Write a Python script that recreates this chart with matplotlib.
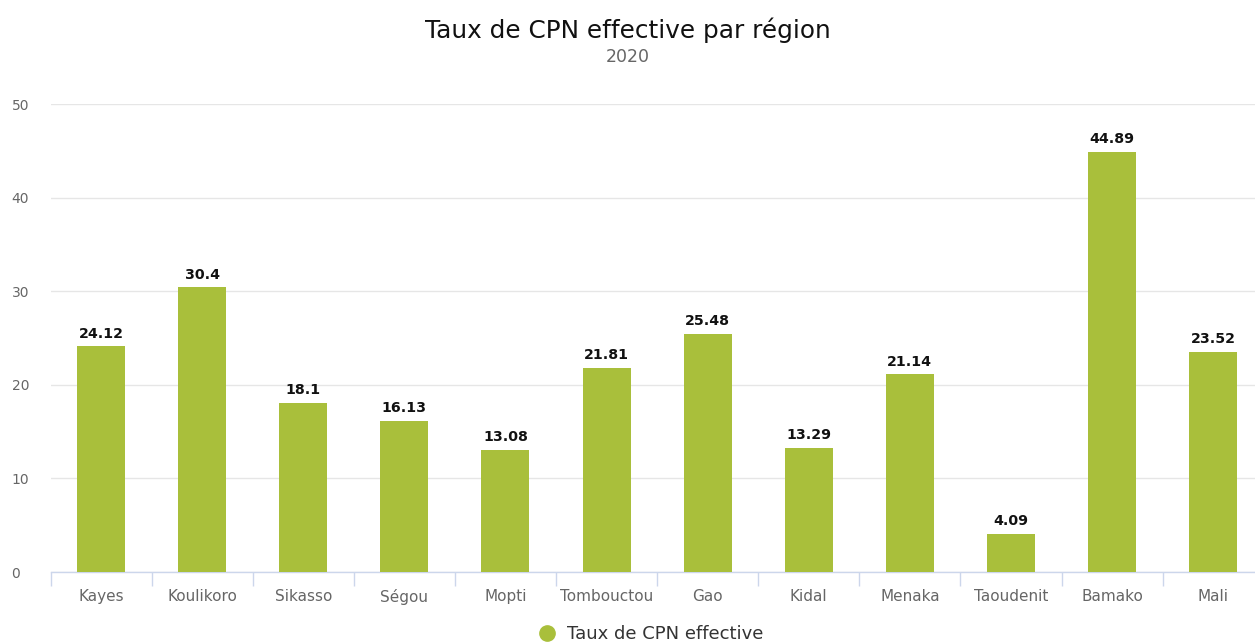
import matplotlib
matplotlib.use('Agg')
import matplotlib.pyplot as plt
from matplotlib.lines import Line2D

regions = ['Kayes', 'Koulikoro', 'Sikasso', 'Ségou', 'Mopti', 'Tombouctou',
           'Gao', 'Kidal', 'Menaka', 'Taoudenit', 'Bamako', 'Mali']
values = [24.12, 30.4, 18.1, 16.13, 13.08, 21.81, 25.48, 13.29, 21.14, 4.09, 44.89, 23.52]
labels = ['24.12', '30.4', '18.1', '16.13', '13.08', '21.81', '25.48', '13.29',
          '21.14', '4.09', '44.89', '23.52']
yticks = [0, 10, 20, 30, 40, 50]

bar_color = '#a9bf3b'
plt.rcParams['font.family'] = ['DejaVu Sans']

fig = plt.figure(figsize=(12.55, 6.44), dpi=100)
# plot area: x 50.5..1263.7 px, y 104..572 px
ax = fig.add_axes([50.5 / 1255, (644 - 572) / 644, 1213.2 / 1255, (572 - 104) / 644])

x = list(range(len(regions)))
ax.bar(x, values, width=0.475, color=bar_color, zorder=3)
for xi, v, lab in zip(x, values, labels):
    ax.annotate(lab, (xi, v), xytext=(0, 4), textcoords='offset points',
                ha='center', va='bottom', fontsize=10.2, fontweight='bold', color='#111111')

ax.set_xlim(-0.5, len(regions) - 0.5)
ax.set_ylim(0, 50)
ax.set_yticks(yticks)
ax.set_yticklabels([str(t) for t in yticks])
ax.grid(axis='y', color='#e6e6e6', linewidth=1, zorder=0)
ax.set_axisbelow(True)

ax.set_xticks(x)
ax.set_xticklabels(regions)
ax.set_xticks([i - 0.5 for i in range(len(regions) + 1)], minor=True)
ax.tick_params(axis='x', which='major', length=0, pad=12, labelsize=11, labelcolor='#666666')
ax.tick_params(axis='x', which='minor', length=10, color='#ccd6eb', width=1)
ax.tick_params(axis='y', length=0, pad=28, labelsize=10, labelcolor='#666666')
for lbl in ax.get_yticklabels():
    lbl.set_horizontalalignment('left')

for s in ['top', 'right', 'left']:
    ax.spines[s].set_visible(False)
ax.spines['bottom'].set_color('#ccd6eb')
ax.spines['bottom'].set_linewidth(1)

fig.text(0.5, 1 - 30 / 644, 'Taux de CPN effective par région', ha='center', va='center',
         fontsize=17.8, color='#111111')
fig.text(0.5, 1 - 57 / 644, '2020', ha='center', va='center', fontsize=12.5, color='#666666')

handle = Line2D([], [], marker='o', linestyle='none', markersize=11,
                markerfacecolor=bar_color, markeredgecolor=bar_color)
fig.legend([handle], ['Taux de CPN effective'], loc='center', bbox_to_anchor=(646 / 1255, 1 - 634 / 644),
           frameon=False, fontsize=13, handletextpad=0.1, labelcolor='#333333')

fig.savefig('out.png', dpi=100)
